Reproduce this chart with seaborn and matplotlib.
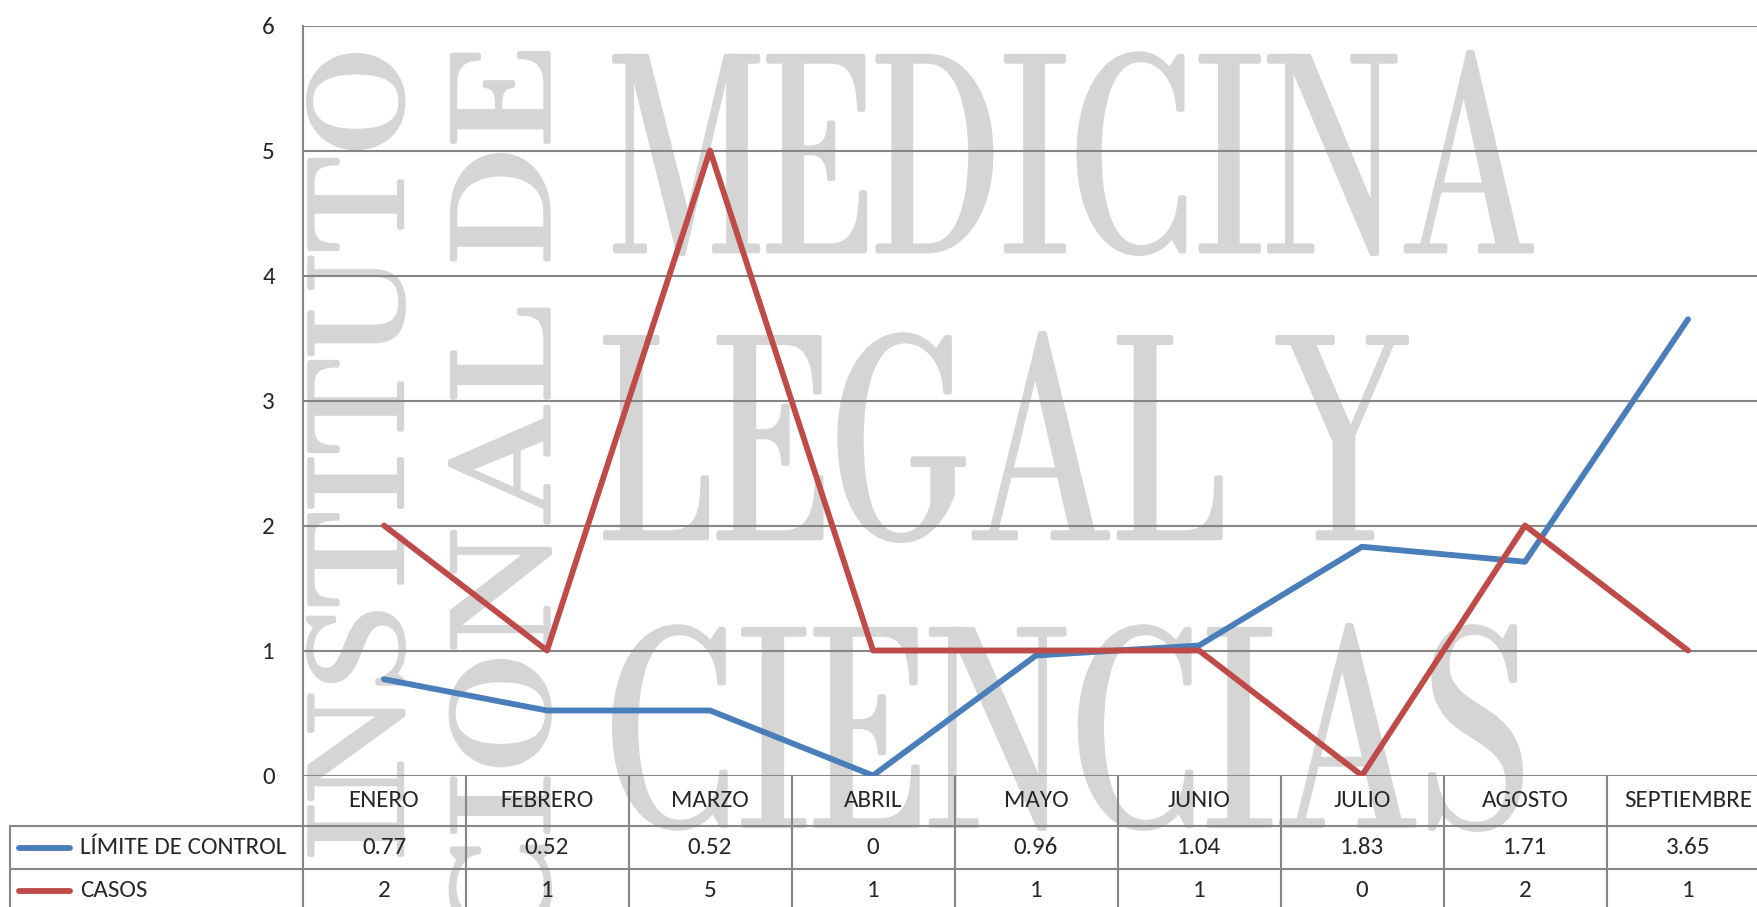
import pandas as pd
import matplotlib
matplotlib.use("Agg")
import matplotlib.pyplot as plt
import matplotlib.patheffects as pe
from matplotlib.transforms import Affine2D
import seaborn as sns

# datos de la tabla
meses = ["ENERO", "FEBRERO", "MARZO", "ABRIL", "MAYO", "JUNIO", "JULIO", "AGOSTO", "SEPTIEMBRE"]
limite = [0.77, 0.52, 0.52, 0, 0.96, 1.04, 1.83, 1.71, 3.65]
casos = [2, 1, 5, 1, 1, 1, 0, 2, 1]
series = ["LÍMITE DE CONTROL", "CASOS"]
colores = ["#4A7EBB", "#BE4B48"]
yticks = [0, 1, 2, 3, 4, 5, 6]

sns.set_style("white")
plt.rcParams["font.family"] = ["Carlito", "Open Sans", "DejaVu Sans"]

W, H = 1757, 907
fig = plt.figure(figsize=(W / 100, H / 100), dpi=100)
fig.patch.set_facecolor("white")

# area del grafico (se sale un poco por la derecha, como en el original)
ax = fig.add_axes([302.5 / W, (H - 775.5) / H, 9 * 163 / W, 750 / H])
ax.set_facecolor("none")


# marca de agua: texto gris ajustado a una caja (px desde arriba-izquierda)
class AjusteCaja(pe.AbstractPathEffect):
    def __init__(self, caja, trazo=3.5):
        super().__init__()
        self.caja = caja
        self.trazo = trazo

    def draw_path(self, renderer, gc, tpath, affine, rgbFace=None):
        ext = tpath.get_extents(affine)
        x0, y0, x1, y1 = self.caja
        m = self.trazo * 0.7  # medio trazo en px
        alto = fig.bbox.height
        tr = (Affine2D().translate(-ext.x0, -ext.y0)
              .scale((x1 - x0 - 2 * m) / ext.width, (y1 - y0 - 2 * m) / ext.height)
              .translate(x0 + m, alto - y1 + m))
        gc0 = renderer.new_gc()
        gc0.copy_properties(gc)
        gc0.set_linewidth(self.trazo)
        gc0.set_joinstyle("round")
        gc0.set_foreground(rgbFace)
        renderer.draw_path(gc0, tpath, affine + tr, rgbFace)
        gc0.restore()


marcas = [
    ("MEDICINA", 0, 150, (612, 50, 1534, 256)),
    ("LEGAL Y", 0, 150, (603, 331, 1409, 543)),
    ("CIENCIAS", 0, 150, (612, 623, 1523, 832)),
    ("INSTITUTO", 90, 100, (306, 53, 406, 857)),
    ("NACIONAL DE", 90, 100, (448, 51, 552, 1200)),
]
for txt, rot, tam, caja in marcas:
    fig.text(caja[0] / W, 1 - caja[3] / H, txt, rotation=rot, fontsize=tam,
             family=["Bodoni Moda", "Liberation Serif"],
             color="#D6D5D5", zorder=-5, path_effects=[AjusteCaja(caja)])

# lineas
df = pd.DataFrame({
    "x": list(range(len(meses))) * 2,
    "valor": limite + casos,
    "serie": [series[0]] * len(meses) + [series[1]] * len(meses),
})
sns.lineplot(data=df, x="x", y="valor", hue="serie", palette=colores, ax=ax,
             linewidth=4.2, legend=False, sort=False)
for ln in ax.lines:
    ln.set_solid_capstyle("round")
    ln.set_solid_joinstyle("round")
    ln.set_zorder(5)

gris = "#868686"
ax.set_xlim(-0.5, len(meses) - 0.5)
ax.set_ylim(0, 6)
ax.set_yticks(yticks)
ax.set_yticklabels([str(t) for t in yticks], fontsize=18)
ax.set_xticks([])
ax.tick_params(axis="y", length=0, pad=20)
ax.set_xlabel("")
ax.set_ylabel("")
ax.grid(axis="y", color=gris, linewidth=1.5)
ax.set_axisbelow(True)
for s in ["top", "right", "bottom"]:
    ax.spines[s].set_visible(False)
ax.spines["left"].set_color(gris)
ax.spines["left"].set_linewidth(1.5)

# tabla de datos debajo del eje
y_fila = [-0.404, -0.75, -1.08]
x_izq = -2.295
kw = dict(color=gris, linewidth=1.5, clip_on=False, zorder=3)
for y in y_fila[:2]:
    ax.plot([x_izq, len(meses) - 0.5], [y, y], **kw)
ax.plot([x_izq, x_izq], [y_fila[0], y_fila[2]], **kw)
for i in range(len(meses) + 1):
    ax.plot([i - 0.5, i - 0.5], [0, y_fila[2]], **kw)

fs = 18
for i, m in enumerate(meses):
    ax.text(i, -0.2, m, ha="center", va="center", fontsize=fs, clip_on=False)
    ax.text(i, -0.578, f"{limite[i]:g}", ha="center", va="center", fontsize=fs, clip_on=False)
    ax.text(i, -0.92, f"{casos[i]:g}", ha="center", va="center", fontsize=fs, clip_on=False)

for yc, nombre, col in zip([-0.578, -0.92], series, colores):
    ax.plot([-2.24, -1.925], [yc, yc], color=col, linewidth=4.2, clip_on=False,
            solid_capstyle="round")
    ax.text(-1.865, yc, nombre, ha="left", va="center", fontsize=fs, clip_on=False)

fig.savefig("out.png", dpi=100)
